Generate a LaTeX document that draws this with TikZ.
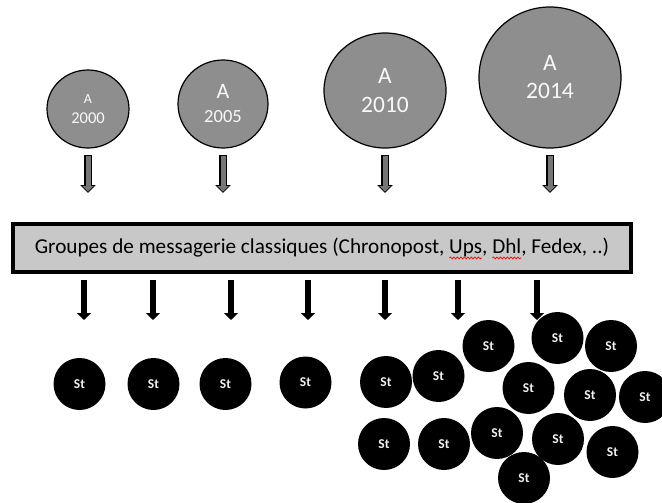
\documentclass[tikz,border=0pt]{standalone}
\usepackage{fontspec}
\setmainfont{Carlito}
\usetikzlibrary{arrows.meta,positioning,shapes.geometric,decorations.pathmorphing}

\definecolor{yeargray}{HTML}{8E8E8E}
\definecolor{boxgray}{HTML}{C8C8C8}
\definecolor{arrowgray}{HTML}{767676}

\newcommand\groupfont{\fontsize{21.2}{25}\selectfont}
\newlength\fulltext
\newlength\upsstart
\newlength\upswidth
\newlength\dhlstart
\newlength\dhlwidth
% positions des mots soulignes par le correcteur
\AtBeginDocument{%
  \settowidth\fulltext{\groupfont Groupes de messagerie classiques (Chronopost, Ups, Dhl, Fedex, ..)}%
  \settowidth\upsstart{\groupfont Groupes de messagerie classiques (Chronopost,\ }%
  \settowidth\upswidth{\groupfont Ups}%
  \settowidth\dhlstart{\groupfont Groupes de messagerie classiques (Chronopost, Ups,\ }%
  \settowidth\dhlwidth{\groupfont Dhl}}

\begin{document}
\begin{tikzpicture}
        [x=1pt, y=-1pt,
         year/.style={ellipse, draw, line width=1.2pt, fill=yeargray, inner sep=0pt,
                      text=white!95!gray, align=center},
         stn/.style={circle, fill=black, inner sep=0pt, minimum size=52pt,
                     text=white!90!gray, font=\fontsize{13.5}{14}\selectfont\bfseries},
         topfeed/.style={draw=arrowgray, line width=5pt, shorten <=7.2pt, shorten >=30.4pt,
                         -{Triangle[length=5.5pt,width=11pt]},
                         preaction={draw=black, line width=7.4pt, shorten <=6pt, shorten >=29pt,
                                    -{Triangle[length=8pt,width=15pt]}}},
         downfeed/.style={draw=black, line width=6pt, shorten <=6pt,
                          -{Triangle[length=7pt,width=14pt]}},
         spellcheck/.style={draw=red, line width=0.7pt, decorate,
                            decoration={snake, amplitude=1pt, segment length=3.5pt}}]
        \useasboundingbox (0,0) rectangle (662,503);

        % annees
        \node[year, minimum width=82pt, minimum height=78pt,
              font=\fontsize{16.5}{20}\selectfont] (y2000) at (88,109)
              {{\fontsize{14}{14}\selectfont A}\\2000};
        \node[year, minimum width=90pt, minimum height=88pt,
              font=\fontsize{18.5}{24}\selectfont] (y2005) at (223,104)
              {{\fontsize{22}{22}\selectfont A}\\2005};
        \node[year, minimum width=122pt, minimum height=115pt,
              font=\fontsize{23.5}{29}\selectfont] (y2010) at (385,90.5) {A\\2010};
        \node[year, minimum width=142pt, minimum height=141pt,
              font=\fontsize{23.5}{28}\selectfont] (y2014) at (550,77.5) {A\\2014};

        % groupes
        \node[draw, line width=4pt, fill=boxgray, minimum width=618pt, minimum height=48pt,
              font=\groupfont] (groups) at (322,248)
              {Groupes de messagerie classiques (Chronopost, Ups, Dhl, Fedex, ..)};
        \draw[spellcheck] ([xshift=\upsstart-0.5\fulltext, yshift=-4pt]groups.base)
          -- ++(\upswidth,0);
        \draw[spellcheck] ([xshift=\dhlstart-0.5\fulltext, yshift=-4pt]groups.base)
          -- ++(\dhlwidth,0);

        \draw[topfeed] (y2000.south) -- (y2000.south |- groups.north);
        \draw[topfeed] (y2005.south) -- (y2005.south |- groups.north);
        \draw[topfeed] (y2010.south) -- (y2010.south |- groups.north);
        \draw[topfeed] (y2014.south) -- (y2014.south |- groups.north);

        % start-up
        \foreach \x/\y [count=\i] in {79.5/384, 153.5/384, 225.5/384, 305.5/382.5, 386/382,
                438.5/376, 488.5/346, 557.5/338, 611/346, 528.5/388, 590/395, 645/397,
                384/444, 444/444, 497/433, 558/439, 612.5/452, 524/478}
          \node[stn] (st\i) at (\x,\y) {St};

        \foreach \x [count=\i] in {84, 153, 231, 308, 385, 458, 537}
          \coordinate (drop\i) at (\x,320);
        \foreach \i in {1,...,7}
          \draw[downfeed] (drop\i |- groups.south) -- (drop\i);
\end{tikzpicture}
\end{document}
